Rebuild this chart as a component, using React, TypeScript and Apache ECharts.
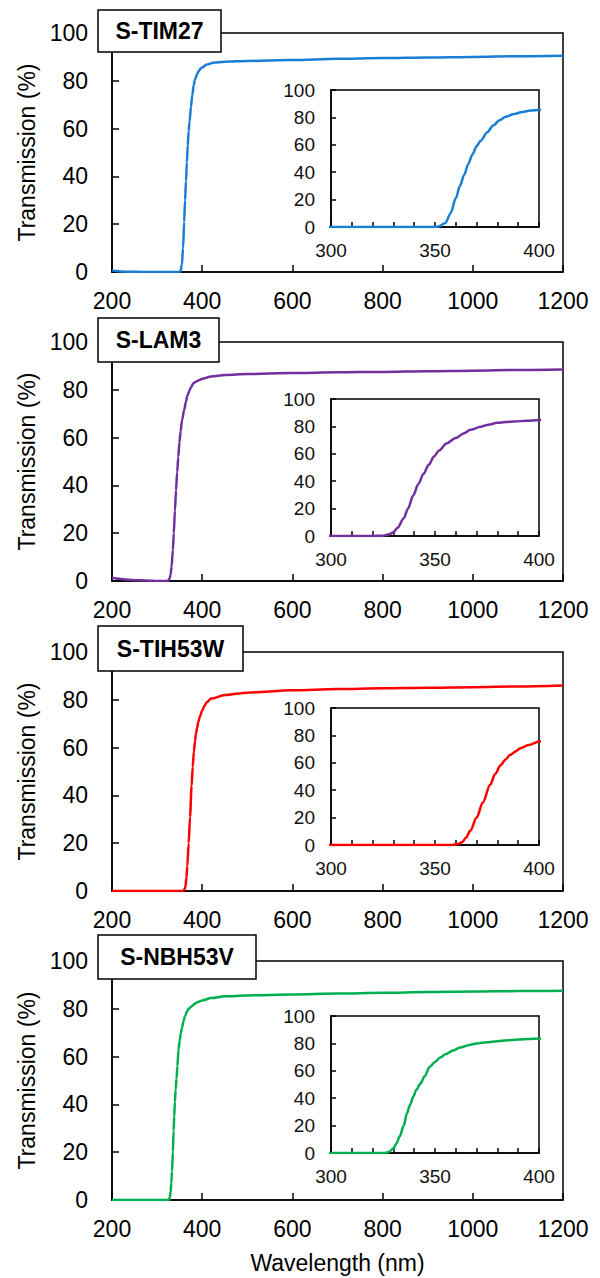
import React, { useEffect, useRef } from "react";
import * as echarts from "echarts";

// ---- data (wavelength nm, transmission %) ----
const glassNames = ["S-TIM27", "S-LAM3", "S-TIH53W", "S-NBH53V"];
const glassColors = ["#1a7ed4", "#7030a0", "#ff0000", "#00b050"];

const tim27: number[][] = [
  [200, 0.8], [210, 0.4], [220, 0.2], [250, 0.1], [300, 0], [340, 0], [350, 0], [352, 0.5],
  [355, 3], [357.5, 10], [360, 21], [362, 30], [364, 38], [366, 46], [368, 53], [370, 59],
  [372, 63], [375, 69], [378, 74], [381, 78], [384, 80.5], [388, 82.5], [392, 84], [396, 85],
  [400, 85.6], [410, 86.8], [425, 87.6], [450, 88], [500, 88.3], [600, 88.7], [700, 89.2],
  [800, 89.5], [900, 89.8], [1000, 90], [1100, 90.3], [1200, 90.5],
];
const lam3: number[][] = [
  [200, 1.4], [210, 1.0], [230, 0.6], [260, 0.3], [290, 0.1], [300, 0], [320, 0], [325, 0.2],
  [328, 1.2], [330, 2.7], [332, 6], [335, 13], [337, 20], [339.5, 29.5], [342, 38], [344.5, 45.5],
  [347, 52], [349.5, 58], [352, 62.5], [355.5, 67.5], [360, 71.5], [364, 75], [367, 77.5],
  [372, 79.7], [375, 81], [380, 82.6], [384, 83.2], [388, 83.6], [394, 84.1], [400, 84.6],
  [420, 85.6], [450, 86.2], [500, 86.6], [600, 87], [700, 87.3], [800, 87.5], [900, 87.8],
  [1000, 88], [1100, 88.3], [1200, 88.5],
];
const tih53w: number[][] = [
  [200, 0], [300, 0], [358, 0], [361, 0.8], [363, 2], [365, 5.5], [367, 10.5], [370, 20],
  [373, 31], [376.5, 44], [379, 52], [381.5, 58.3], [384, 62.5], [386, 65.7], [389, 68.5],
  [391, 70.6], [395, 73], [400, 75.5], [405, 77.5], [410, 79], [420, 80.5], [450, 82],
  [500, 83], [600, 84], [700, 84.5], [800, 84.8], [900, 85], [1000, 85.3], [1100, 85.6], [1200, 86],
];
const nbh53v: number[][] = [
  [200, 0], [300, 0], [326, 0], [328, 1], [330, 3.4], [331.5, 7], [333, 12], [335, 20],
  [336.5, 29], [338, 35], [339.5, 41], [341, 46], [343, 50.7], [345, 56], [347.5, 62.9],
  [350, 66.5], [352.5, 69.7], [355, 72], [359, 75], [362, 77], [367, 79.1], [370, 80],
  [375, 80.8], [380, 81.6], [385, 82.3], [390, 82.8], [395, 83.2], [400, 83.5], [420, 84.5],
  [450, 85.2], [500, 85.6], [600, 86], [700, 86.4], [800, 86.7], [900, 87], [1000, 87.2],
  [1100, 87.4], [1200, 87.6],
];
const glassData = [tim27, lam3, tih53w, nbh53v];

const mainXRange = [200, 1200, 200];
const mainYRange = [0, 100, 20];
const insetXRange = [300, 400, 50];
const insetYRange = [0, 100, 20];
const xAxisTitle = "Wavelength (nm)";
const yAxisTitle = "Transmission (%)";

// ---- layout ----
const mainTops = [33, 342, 652, 961];
const mainH = 239;
const mainLeft = 112;
const mainW = 451;
const insetTops = [90, 399, 708, 1016];
const insetH = 137;
const insetLeft = 331;
const insetW = 208;
const boxes = [
  { x: 98, y: 10, w: 123, h: 42 },
  { x: 98, y: 318, w: 121, h: 44 },
  { x: 98, y: 626, w: 145, h: 45 },
  { x: 98, y: 935, w: 158, h: 44 },
];

const FONT = "Liberation Sans, Arial, sans-serif";
const plain = (v: number) => String(v);

export default function App() {
  const ref = useRef<HTMLDivElement>(null);
  useEffect(() => {
    document.body.style.margin = "0";
    if (!ref.current) return;
    const chart = echarts.init(ref.current, undefined, { renderer: "svg" });

    const grid: any[] = [];
    const xAxis: any[] = [];
    const yAxis: any[] = [];
    const series: any[] = [];
    const graphic: any[] = [];

    const line = { lineStyle: { color: "#000", width: 1.5 } };

    glassNames.forEach((name, i) => {
      // main grid
      grid.push({
        left: mainLeft, top: mainTops[i], width: mainW, height: mainH,
        show: true, borderColor: "#000", borderWidth: 1.5, backgroundColor: "transparent",
      });
      const last = i === glassNames.length - 1;
      xAxis.push({
        type: "value", gridIndex: 2 * i, min: mainXRange[0], max: mainXRange[1], interval: mainXRange[2],
        axisLine: { show: true, ...line },
        axisTick: { show: true, inside: true, length: 7, ...line },
        splitLine: { show: false },
        axisLabel: { color: "#000", fontSize: 23, fontFamily: FONT, margin: 17, formatter: plain },
        name: last ? xAxisTitle : "",
        nameLocation: "middle", nameGap: 51,
        nameTextStyle: { color: "#000", fontSize: 23, fontFamily: FONT },
      });
      yAxis.push({
        type: "value", gridIndex: 2 * i, min: mainYRange[0], max: mainYRange[1], interval: mainYRange[2],
        axisLine: { show: true, ...line },
        axisTick: { show: true, inside: true, length: 7, ...line },
        splitLine: { show: false },
        axisLabel: { color: "#000", fontSize: 23, fontFamily: FONT, margin: 24, formatter: plain },
        name: yAxisTitle, nameLocation: "middle", nameGap: 70, nameRotate: 90,
        nameTextStyle: { color: "#000", fontSize: 23, fontFamily: FONT },
      });
      series.push({
        type: "line", xAxisIndex: 2 * i, yAxisIndex: 2 * i, data: glassData[i],
        showSymbol: false, symbol: "none", smooth: 0.3, smoothMonotone: "x",
        lineStyle: { color: glassColors[i], width: 2.5 }, clip: true,
      });

      // inset grid
      grid.push({
        left: insetLeft, top: insetTops[i], width: insetW, height: insetH,
        show: true, borderColor: "#000", borderWidth: 1.5, backgroundColor: "#fff",
      });
      xAxis.push({
        type: "value", gridIndex: 2 * i + 1, min: insetXRange[0], max: insetXRange[1], interval: insetXRange[2],
        axisLine: { show: true, ...line },
        axisTick: { show: true, inside: true, length: 5, ...line },
        minorTick: { show: true, splitNumber: 5, length: 5, lineStyle: { color: "#000", width: 1.5 } },
        splitLine: { show: false },
        axisLabel: { color: "#111", fontSize: 19, fontFamily: FONT, margin: 14, formatter: plain },
      });
      yAxis.push({
        type: "value", gridIndex: 2 * i + 1, min: insetYRange[0], max: insetYRange[1], interval: insetYRange[2],
        axisLine: { show: true, ...line },
        axisTick: { show: true, inside: true, length: 5, ...line },
        splitLine: { show: false },
        axisLabel: { color: "#111", fontSize: 19, fontFamily: FONT, margin: 16, formatter: plain },
      });
      series.push({
        type: "line", xAxisIndex: 2 * i + 1, yAxisIndex: 2 * i + 1, data: glassData[i],
        showSymbol: false, symbol: "none", smooth: 0.3, smoothMonotone: "x",
        lineStyle: { color: glassColors[i], width: 2.5 }, clip: true,
      });

      const b = boxes[i];
      graphic.push({
        type: "group", z: 100,
        children: [
          {
            type: "rect", z: 100,
            shape: { x: b.x, y: b.y, width: b.w, height: b.h },
            style: { fill: "#fff", stroke: "#000", lineWidth: 1.5 },
          },
          {
            type: "text", z: 101, x: b.x + b.w / 2, y: b.y + b.h / 2,
            style: {
              text: name, fill: "#000", font: `bold 23px ${FONT}`,
              textAlign: "center", textVerticalAlign: "middle",
            },
          },
        ],
      });
    });

    chart.setOption({
      animation: false,
      backgroundColor: "#fff",
      grid, xAxis, yAxis, series, graphic,
    });
    return () => chart.dispose();
  }, []);
  return <div ref={ref} style={{ width: 600, height: 1278 }} />;
}
